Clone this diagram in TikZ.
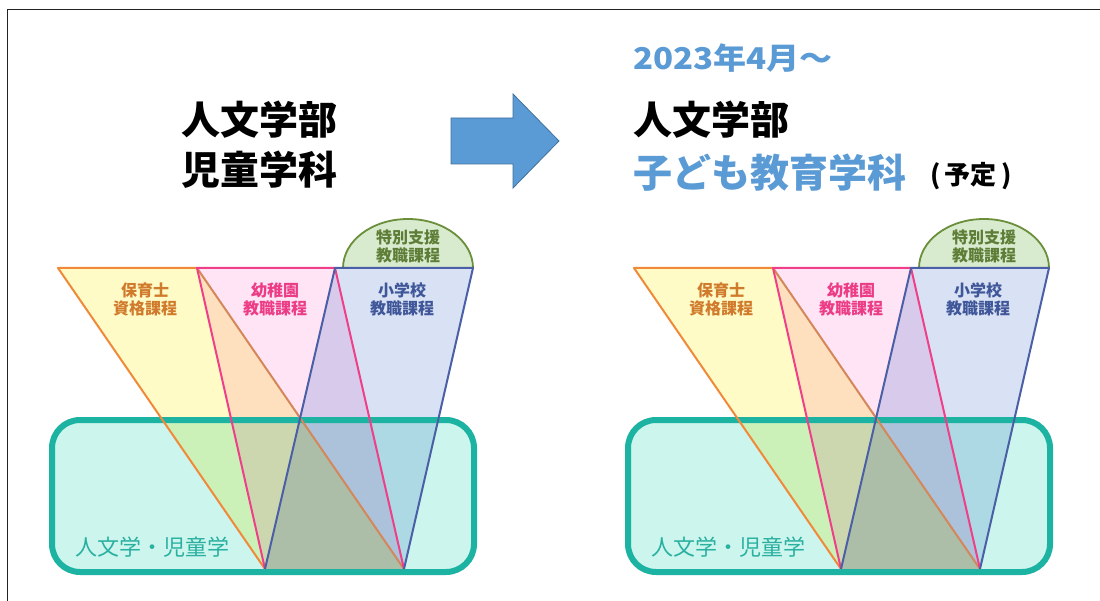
\documentclass[tikz,border=0pt]{standalone}
\usepackage{fontspec}
\newfontfamily\jp{Noto Sans CJK JP}
\definecolor{tealline}{HTML}{1DB3A3}
\definecolor{tealfill}{HTML}{CCF5EE}
\definecolor{tealtext}{HTML}{2AB0A0}
\definecolor{yelfill}{HTML}{FFFBC6}
\definecolor{pinkfill}{HTML}{FFE4F5}
\definecolor{bluefill}{HTML}{D8E2F4}
\definecolor{orangeline}{HTML}{F08A3A}
\definecolor{brownline}{HTML}{D4875A}
\definecolor{pinkline}{HTML}{EE3F88}
\definecolor{blueline}{HTML}{4A5FA5}
\definecolor{greenfill}{HTML}{D8EBCF}
\definecolor{greenline}{HTML}{6B8E3A}
\definecolor{orangetext}{HTML}{D07A2C}
\definecolor{pinktext}{HTML}{EC3C86}
\definecolor{bluetext}{HTML}{3F5699}
\definecolor{greentext}{HTML}{5E7D36}
\definecolor{titleblue}{HTML}{5B9BD5}
\definecolor{arrowedge}{HTML}{41719C}
\definecolor{frame}{HTML}{222222}
\tikzset{
  edgeline/.style={line width=2pt, line join=round},
  label/.style={font=\jp\bfseries\fontsize{16}{18}\selectfont, align=center, inner sep=0pt},
  bigtitle/.style={font=\jp\bfseries\fontsize{39}{46}\selectfont, anchor=west, inner sep=0pt},
}
\newcommand\coursediagram[1]{%
  \begin{scope}[blend group=multiply]
    \fill[tealfill, rounded corners=28pt] (52,420) rectangle (474,572);
    \fill[yelfill] (58,268) -- (197,268) -- (404,569) -- (265,569) -- cycle;
    \fill[pinkfill] (197,268) -- (335,268) -- (404,569) -- (265,569) -- cycle;
    \fill[bluefill] (335,268) -- (473,268) -- (404,569) -- (265,569) -- cycle;
  \end{scope}
  \draw[tealline, line width=6pt, rounded corners=28pt] (52,420) rectangle (474,572);
  \draw[greenline, fill=greenfill, line width=1.8pt] (343,268) arc[start angle=180, end angle=360, x radius=65, y radius=49];
  \draw[edgeline, orangeline] (197,268) -- (58,268) -- (265,569);
  \draw[edgeline, brownline] (197,268) -- (404,569);
  \draw[edgeline, pinkline] (265,569) -- (197,268) -- (335,268) -- (404,569);
  \draw[edgeline, blueline] (265,569) -- (335,268) -- (473,268) -- (404,569);
  \node[label, text=orangetext] (#1hoiku) at (145,299) {保育士\\資格課程};
  \node[label, text=pinktext] (#1yochien) at (275,299) {幼稚園\\教職課程};
  \node[label, text=bluetext] (#1shogakko) at (402,299) {小学校\\教職課程};
  \node[label, text=greentext] (#1tokubetsu) at (408,246) {特別支援\\教職課程};
  \node[font=\jp\fontsize{22}{25}\selectfont, text=tealtext, anchor=west, inner sep=0pt] (#1base) at (75,547) {人文学・児童学};
}
\begin{document}
\begin{tikzpicture}[x=1pt, y=-1pt]
  \useasboundingbox (0,0) rectangle (1100,601);
  \fill[white] (0,0) rectangle (1100,601);
  \draw[frame, line width=1.5pt] (1100,9.5) -- (7.5,9.5) -- (7.5,601);
  % left side
  \coursediagram{L}
  \node[bigtitle] (ltitle1) at (181,120) {人文学部};
  \node[bigtitle] (ltitle2) at (181,170) {児童学科};
  % arrow
  \draw[fill=titleblue, draw=arrowedge, line width=0.8pt, line join=miter]
    (451,118) -- (513,118) -- (513,94) -- (559,141) -- (513,188) -- (513,164) -- (451,164) -- cycle;
  % right side
  \begin{scope}[shift={(576,0)}]
    \coursediagram{R}
  \end{scope}
  \node[font=\jp\bfseries\fontsize{30}{34}\selectfont, text=titleblue, anchor=west, inner sep=0pt, xscale=1.1] (date) at (633,58) {2023年4月～};
  \node[bigtitle] (rtitle1) at (633,120) {人文学部};
  \node[bigtitle, text=titleblue] (rtitle2) at (633,173) {子ども教育学科};
  \node[font=\jp\bfseries\fontsize{26}{30}\selectfont, inner sep=0pt] (yotei) at (971,176) {(\,予定\,)};
\end{tikzpicture}
\end{document}
